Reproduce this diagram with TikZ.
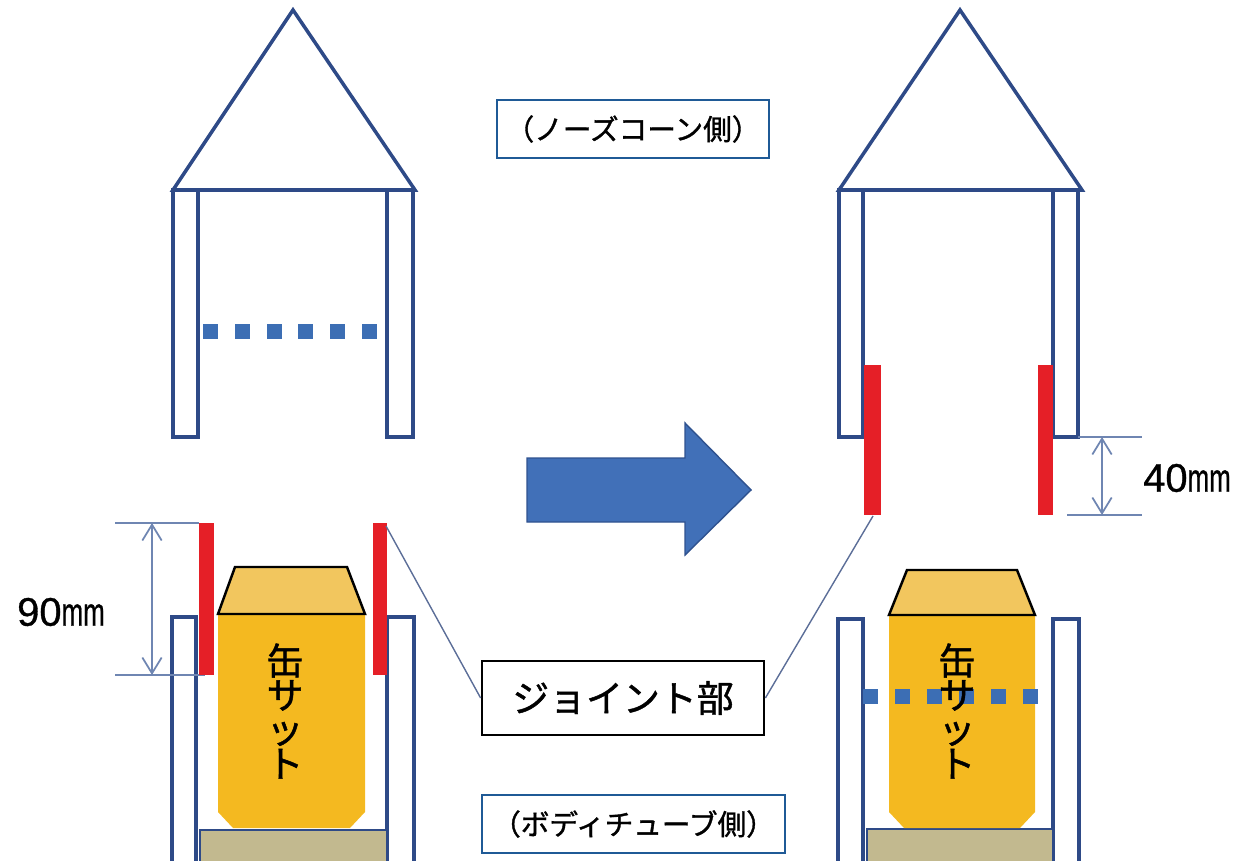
\documentclass[tikz,border=0pt]{standalone}
\usepackage{fontspec}
\usepackage{graphicx}
\usetikzlibrary{arrows.meta}
\newfontfamily\jpfont[FakeBold=1.2]{Noto Sans CJK JP}
\newfontfamily\numfont[FakeBold=0.8]{Liberation Sans}
\definecolor{tubeblue}{HTML}{2E4A87}
\definecolor{dotblue}{HTML}{3C6EB4}
\definecolor{jointred}{HTML}{E51F27}
\definecolor{cangold}{HTML}{F4B920}
\definecolor{canlid}{HTML}{F2C65E}
\definecolor{plate}{HTML}{C2B98F}
\definecolor{dimblue}{HTML}{6F86B2}
\definecolor{leadgray}{HTML}{5C6E98}
\definecolor{arrowfill}{HTML}{4170B8}
\definecolor{arrowedge}{HTML}{2F528F}
\definecolor{labelblue}{HTML}{1F5A96}
\tikzset{
  tube/.style={draw=tubeblue, line width=2pt, fill=white},
  cone/.style={draw=tubeblue, line width=2pt, line join=miter},
  jointstrip/.style={fill=jointred, draw=none},
  dotsq/.style={fill=dotblue, draw=none},
  canbody/.style={fill=cangold, draw=none},
  canlidstyle/.style={fill=canlid, draw=black, line width=1.4pt, line join=miter},
  baseplate/.style={fill=plate, draw=tubeblue, line width=1.6pt},
  dimline/.style={draw=dimblue, line width=1pt},
  dimarrow/.style={draw=dimblue, line width=1pt,
    {Straight Barb[length=9pt,width=11pt]}-{Straight Barb[length=9pt,width=11pt]}},
  leader/.style={draw=leadgray, line width=0.8pt},
  sidelabel/.style={draw=labelblue, line width=1.3pt, fill=white,
    font=\jpfont\fontsize{16.3}{18}\selectfont, inner sep=0pt},
  jointlabel/.style={draw=black, line width=1.6pt, fill=white,
    font=\jpfont\fontsize{21}{24}\selectfont, inner sep=0pt,
    minimum width=5.64cm, minimum height=1.48cm},
  cantext/.style={font=\jpfont\fontsize{21}{19.5}\selectfont, align=center, inner sep=0pt},
  dimtext/.style={font=\numfont\fontsize{22.7}{24}\selectfont, inner sep=0pt},
}
\newcommand{\mmunit}{\scalebox{0.65}[1]{mm}}
\begin{document}
\begin{tikzpicture}[x=0.02cm, y=-0.02cm]
\useasboundingbox (0,0) rectangle (1236,861);
\clip (0,0) rectangle (1236,861);

% ---------- left: nose cone section ----------
\draw[cone] (173,190) -- (293,10) -- (415,190) -- cycle;
\draw[tube] (173,190) rectangle (198,437);
\draw[tube] (387,190) rectangle (413,437);
\foreach \i in {0,...,5}
  \fill[dotsq] ({203+\i*31.8},324) rectangle ++(15,15);

% ---------- left: body tube section ----------
\draw[tube] (172,617) rectangle (196,880);
\draw[tube] (387,617) rectangle (414,880);
\draw[baseplate] (200,830) rectangle (387,880);
\fill[canbody] (218,614) -- (365,614) -- (365,812) -- (350,828)
  -- (233,828) -- (218,812) -- cycle;
\draw[canlidstyle] (235,567) -- (347,567) -- (365,614) -- (218,614) -- cycle;
\node[cantext] (canL) at (285,711) {缶\\サ\\ッ\\ト};

% 90 mm dimension
\draw[dimline] (115,523) -- (199,523);
\draw[dimline] (115,675) -- (205,675);
\draw[dimarrow] (152,523) -- (152,675);
\node[dimtext] (dimL) at (61,612) {90\mmunit};

% joint strips on the body tube
\fill[jointstrip] (199,523) rectangle (214,675);
\fill[jointstrip] (373,523) rectangle (387,675);
\coordinate (stripLtop) at (386,526);

% ---------- big arrow ----------
\draw[fill=arrowfill, draw=arrowedge, line width=0.8pt, line join=miter]
  (527,458) -- (685,458) -- (685,423) -- (751,490) -- (685,555)
  -- (685,522) -- (527,522) -- cycle;

% ---------- right: nose cone section ----------
\draw[cone] (839,190) -- (960,10) -- (1082,190) -- cycle;
\draw[tube] (839,190) rectangle (863,437);
\draw[tube] (1053,190) rectangle (1078,437);
\fill[jointstrip] (864,365) rectangle (881,515);
\fill[jointstrip] (1038,365) rectangle (1053,515);
\coordinate (stripRbot) at (873,516);

% 40 mm dimension
\draw[dimline] (1078,437) -- (1142,437);
\draw[dimline] (1067,515) -- (1142,515);
\draw[dimarrow] (1102,437) -- (1102,515);
\node[dimtext] (dimR) at (1187,478) {40\mmunit};

% ---------- right: body tube section ----------
\draw[tube] (838,619) rectangle (863,880);
\draw[tube] (1053,619) rectangle (1079,880);
\draw[baseplate] (867,829) rectangle (1053,880);
\fill[canbody] (889,615) -- (1035,615) -- (1035,812) -- (1020,828)
  -- (904,828) -- (889,812) -- cycle;
\draw[canlidstyle] (907,570) -- (1017,570) -- (1035,615) -- (889,615) -- cycle;
\foreach \i in {0,...,5}
  \fill[dotsq] ({863+\i*32},689) rectangle ++(15,15);
\node[cantext] (canR) at (957,711) {缶\\サ\\ッ\\ト};

% ---------- labels ----------
\node[sidelabel, minimum width=5.44cm, minimum height=1.16cm] (nose) at (633,129)
  {（ノーズコーン側）};
\node[sidelabel, minimum width=6.06cm, minimum height=1.16cm] (body) at (633.5,824)
  {（ボディチューブ側）};

\node[jointlabel] (joint) at (623,698) {ジョイント部};
\draw[leader] (stripLtop) -- (joint.west);
\draw[leader] (joint.east) -- (stripRbot);
\end{tikzpicture}
\end{document}
